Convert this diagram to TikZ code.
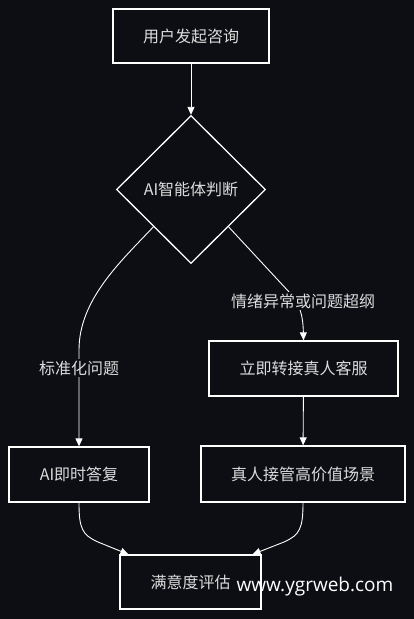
\documentclass[tikz,border=0pt]{standalone}
\usepackage{fontspec}
\setmainfont{Noto Sans CJK SC}
\newfontfamily\markfont{Open Sans}
\usetikzlibrary{shapes.geometric}
\usetikzlibrary{arrows.meta}
\definecolor{bgdark}{RGB}{12,14,20}
\definecolor{inkgrey}{RGB}{220,220,220}
\tikzset{
  stepbox/.style={draw=white, line width=1.3pt, fill=bgdark, text=inkgrey,
    font=\fontsize{16}{19}\selectfont, inner sep=0pt},
  choice/.style={diamond, draw=white, line width=1.3pt, fill=bgdark, text=inkgrey,
    font=\fontsize{16}{19}\selectfont, inner sep=0pt, minimum width=149pt, minimum height=148pt},
  flow/.style={draw=white, line width=0.9pt, -{Triangle[length=8pt,width=7pt]}},
  edgelabel/.style={fill=bgdark, text=inkgrey, font=\fontsize{16}{19}\selectfont, inner sep=2pt}
}

\begin{document}
\begin{tikzpicture}[x=1pt, y=-1pt]
        \fill[bgdark] (0,0) rectangle (414,619);
        \useasboundingbox (0,0) rectangle (414,619);
        % steps
        \node[stepbox, minimum width=156pt, minimum height=54pt] (ask) at (191,36) {用户发起咨询};
        \node[choice] (judge) at (191,189.5) {AI智能体判断};
        \node[stepbox, minimum width=189pt, minimum height=55pt] (transfer) at (303.5,368.5) {立即转接真人客服};
        \node[stepbox, minimum width=140pt, minimum height=55pt] (aireply) at (79,474.5) {AI即时答复};
        \node[stepbox, minimum width=204pt, minimum height=56pt] (takeover) at (303,474) {真人接管高价值场景};
        \node[stepbox, minimum width=141pt, minimum height=54pt] (score) at (190.5,582) {满意度评估};
        % arrows
        \draw[flow] (ask) -- (judge);
        \draw[flow] (judge.south west) .. controls (120,262) and (79,300) .. (79,350) -- (aireply.north);
        \draw[flow] (judge.south east) -- (290,293) .. controls (300,305) and (303,315) .. (transfer.north);
        \draw[flow] (transfer) -- (takeover);
        \draw[flow] (aireply.south) .. controls (79,528) and (82,535) .. (98,542) -- (score.156);
        \draw[flow] (takeover.south) .. controls (303,528) and (300,535) .. (284,542) -- (score.24);
        % labels
        \node[edgelabel] (lblstd) at (79,368) {标准化问题};
        \node[edgelabel] (lblodd) at (303,301) {情绪异常或问题超纲};
        \node[text=white, font=\markfont\fontsize{19}{22}\selectfont, inner sep=0pt] (mark) at (315,587) {www.ygrweb.com};
\end{tikzpicture}
\end{document}
